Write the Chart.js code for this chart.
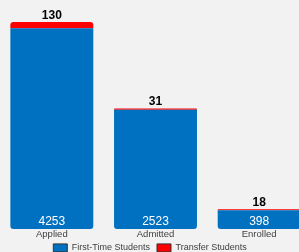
<!DOCTYPE html>
<html>
<head>
<meta charset="utf-8">
<script src="https://cdn.jsdelivr.net/npm/chart.js@4/dist/chart.umd.min.js"></script>
<style>
html,body{margin:0;padding:0;background:#f2f2f2;overflow:hidden;width:299px;height:252px;}
#wrap{position:relative;width:311px;height:252px;}
</style>
</head>
<body>
<div id="wrap"><canvas id="c"></canvas></div>
<script>
const categories = ["Applied", "Admitted", "Enrolled"];
const firstTime = [4253, 2523, 398];
const transfer = [130, 31, 18];
const seriesNames = ["First-Time Students", "Transfer Students"];

const labelPlugin = {
  id: 'valueLabels',
  afterLayout(chart) {
    const lg = chart.legend;
    if (lg) {
      const dx = -5.5, dy = -4;
      lg.left += dx; lg.right += dx;
      lg.top += dy; lg.bottom += dy;
    }
  },
  afterDatasetsDraw(chart) {
    const ctx = chart.ctx;
    ctx.save();
    const m0 = chart.getDatasetMeta(0), m1 = chart.getDatasetMeta(1);
    m0.data.forEach((bar, i) => {
      ctx.font = '12px "Liberation Sans", Arial, sans-serif';
      ctx.fillStyle = '#ffffff';
      ctx.textAlign = 'center';
      ctx.textBaseline = 'alphabetic';
      ctx.fillText(String(firstTime[i]), bar.x, bar.base - 4);
    });
    m1.data.forEach((bar, i) => {
      ctx.font = 'bold 12px "Liberation Sans", Arial, sans-serif';
      ctx.fillStyle = '#000000';
      ctx.textAlign = 'center';
      ctx.textBaseline = 'alphabetic';
      ctx.fillText(String(transfer[i]), bar.x, bar.y - 3);
    });
    ctx.restore();
  }
};

new Chart(document.getElementById('c'), {
  type: 'bar',
  data: {
    labels: categories,
    datasets: [
      { label: seriesNames[0], data: firstTime, backgroundColor: '#0070C0',
        borderWidth: 0, borderSkipped: false,
        borderRadius: {topLeft: 0, topRight: 0, bottomLeft: 3, bottomRight: 3},
        barPercentage: 0.8, categoryPercentage: 1.0 },
      { label: seriesNames[1], data: transfer, backgroundColor: '#FF0000',
        borderWidth: 0, borderSkipped: false,
        borderRadius: {topLeft: 3, topRight: 3, bottomLeft: 0, bottomRight: 0},
        barPercentage: 0.8, categoryPercentage: 1.0 }
    ]
  },
  options: {
    responsive: true,
    maintainAspectRatio: false,
    animation: false,
    devicePixelRatio: 1,
    layout: { padding: { top: 16.5, bottom: -14.4, left: 0, right: 0 } },
    scales: {
      x: { stacked: true, grid: { display: false, drawTicks: false }, border: { display: false },
           ticks: { padding: 0, color: '#404040', font: { family: '"Liberation Sans", Arial, sans-serif', size: 9.5 } } },
      y: { stacked: true, display: false, min: 0, max: 4500 }
    },
    plugins: {
      tooltip: { enabled: false },
      legend: {
        position: 'bottom',
        labels: {
          boxWidth: 14, boxHeight: 8, padding: 7, color: '#404040',
          font: { family: '"Liberation Sans", Arial, sans-serif', size: 9 },
          generateLabels(chart) {
            const items = Chart.defaults.plugins.legend.labels.generateLabels(chart);
            items.forEach(it => { it.strokeStyle = '#333333'; it.lineWidth = 1; });
            return items;
          }
        }
      }
    }
  },
  plugins: [labelPlugin]
});
</script>
</body>
</html>
